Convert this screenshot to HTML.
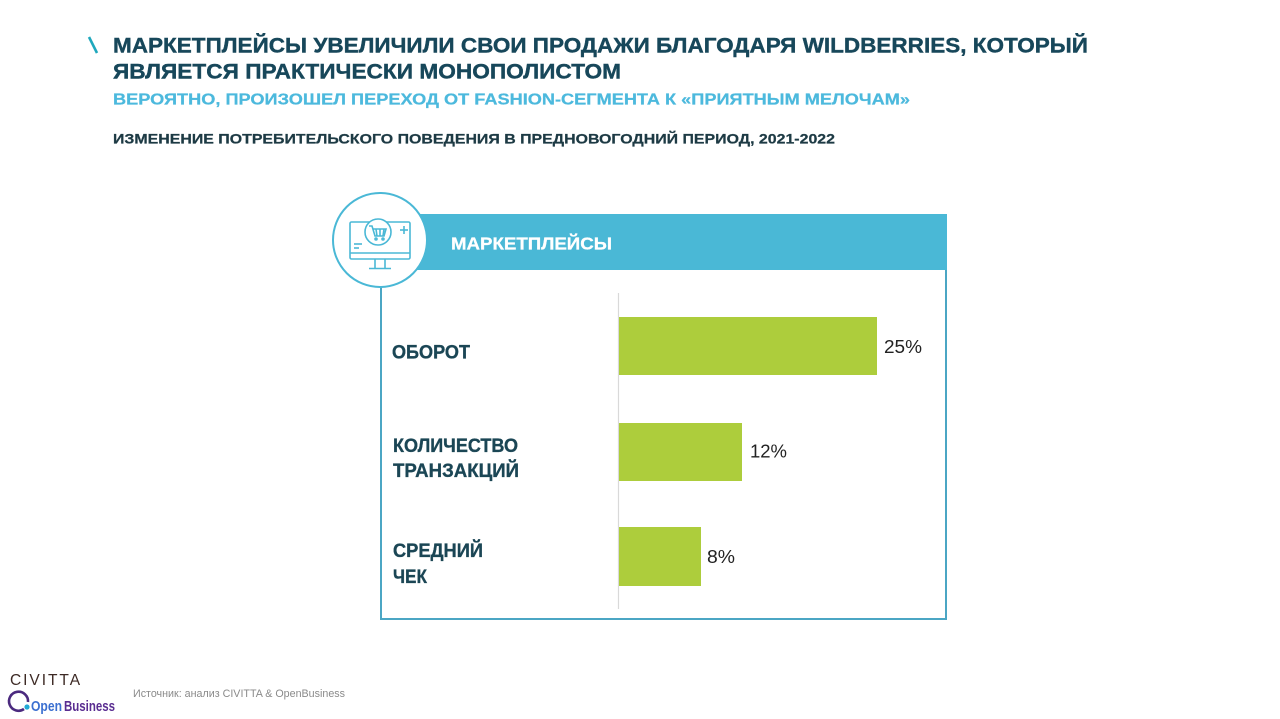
<!DOCTYPE html>
<html><head><meta charset="utf-8"><style>
html,body{margin:0;padding:0;background:#fff;}
svg{display:block;}
text{font-family:"Liberation Sans","Noto Sans CJK SC",sans-serif;}
</style></head><body>
<svg width="1280" height="719" viewBox="0 0 1280 719" xmlns="http://www.w3.org/2000/svg">
<rect width="1280" height="719" fill="#fff"/>
<!-- backslash -->
<line x1="89" y1="37" x2="97" y2="53" stroke="#1fa8bd" stroke-width="2.6"/>
<!-- titles -->
<text x="113" y="52.5" font-size="21.5" font-weight="bold" fill="#17475a" stroke="#17475a" stroke-width="0.4" textLength="975" lengthAdjust="spacingAndGlyphs">МАРКЕТПЛЕЙСЫ УВЕЛИЧИЛИ СВОИ ПРОДАЖИ БЛАГОДАРЯ WILDBERRIES, КОТОРЫЙ</text>
<text x="113" y="78.5" font-size="21.5" font-weight="bold" fill="#17475a" stroke="#17475a" stroke-width="0.4" textLength="508" lengthAdjust="spacingAndGlyphs">ЯВЛЯЕТСЯ ПРАКТИЧЕСКИ МОНОПОЛИСТОМ</text>
<text x="113" y="104.5" font-size="15.8" font-weight="bold" fill="#4cb9dd" stroke="#4cb9dd" stroke-width="0.25" textLength="797" lengthAdjust="spacingAndGlyphs">ВЕРОЯТНО, ПРОИЗОШЕЛ ПЕРЕХОД ОТ FASHION-СЕГМЕНТА К «ПРИЯТНЫМ МЕЛОЧАМ»</text>
<text x="113" y="143.5" font-size="14" font-weight="bold" fill="#1d3a44" stroke="#1d3a44" stroke-width="0.25" textLength="722" lengthAdjust="spacingAndGlyphs">ИЗМЕНЕНИЕ ПОТРЕБИТЕЛЬСКОГО ПОВЕДЕНИЯ В ПРЕДНОВОГОДНИЙ ПЕРИОД, 2021-2022</text>

<!-- box -->
<rect x="381" y="240" width="565" height="379" fill="none" stroke="#4ba6c4" stroke-width="2"/>
<rect x="380" y="214" width="567" height="56" fill="#4ab8d6"/>
<text x="451" y="249.5" font-size="17.5" font-weight="bold" fill="#fff" stroke="#fff" stroke-width="0.3" textLength="161" lengthAdjust="spacingAndGlyphs">МАРКЕТПЛЕЙСЫ</text>

<!-- circle icon -->
<circle cx="380" cy="240" r="47" fill="#fff" stroke="#4ab8d6" stroke-width="2"/>
<g fill="none" stroke="#4ab8d6" stroke-width="1.6">
  <rect x="350" y="222" width="60" height="37" rx="1.5"/>
  <line x1="350" y1="253" x2="410" y2="253"/>
  <line x1="375" y1="259" x2="375" y2="268"/>
  <line x1="385" y1="259" x2="385" y2="268"/>
  <line x1="369" y1="268.5" x2="391" y2="268.5"/>
  <circle cx="378" cy="232" r="13" fill="#fff"/>
  <path d="M369 226 h3 l3 10 h9 l2 -7 h-13"/>
  <line x1="376" y1="229" x2="377" y2="236"/>
  <line x1="380" y1="229" x2="380" y2="236"/>
  <line x1="384" y1="229" x2="383" y2="236"/>
  <circle cx="376" cy="239" r="1"/>
  <circle cx="383" cy="239" r="1"/>
  <line x1="400" y1="230" x2="408" y2="230"/>
  <line x1="404" y1="226" x2="404" y2="234"/>
  <line x1="354" y1="244" x2="362" y2="244"/>
  <line x1="354" y1="248" x2="359" y2="248"/>
</g>

<!-- axis -->
<line x1="618.5" y1="293" x2="618.5" y2="609" stroke="#d9d9d9" stroke-width="1.2"/>
<!-- bars -->
<rect x="619" y="317" width="258" height="58" fill="#adcd3c"/>
<rect x="619" y="423" width="123" height="58" fill="#adcd3c"/>
<rect x="619" y="527" width="82" height="59" fill="#adcd3c"/>

<!-- values -->
<text x="884" y="353" font-size="18.5" fill="#222" textLength="38" lengthAdjust="spacingAndGlyphs">25%</text>
<text x="750" y="457.5" font-size="18.5" fill="#222" textLength="37" lengthAdjust="spacingAndGlyphs">12%</text>
<text x="707" y="563" font-size="18.5" fill="#222" textLength="28" lengthAdjust="spacingAndGlyphs">8%</text>

<!-- labels -->
<g font-size="19.5" font-weight="bold" fill="#1b4655" stroke="#1b4655" stroke-width="0.35">
<text x="392" y="358.5" textLength="78" lengthAdjust="spacingAndGlyphs">ОБОРОТ</text>
<text x="393" y="452" textLength="125" lengthAdjust="spacingAndGlyphs">КОЛИЧЕСТВО</text>
<text x="393" y="477" textLength="126" lengthAdjust="spacingAndGlyphs">ТРАНЗАКЦИЙ</text>
<text x="393" y="557" textLength="90" lengthAdjust="spacingAndGlyphs">СРЕДНИЙ</text>
<text x="393" y="583" textLength="34" lengthAdjust="spacingAndGlyphs">ЧЕК</text>
</g>

<!-- footer logos -->
<text x="10" y="685" font-size="16" fill="#3d2a25" letter-spacing="2" textLength="72" lengthAdjust="spacingAndGlyphs">CIVITTA</text>
<path d="M24 709 A9.5 9.5 0 1 1 28 702" fill="none" stroke="#4b2a7f" stroke-width="2.6"/>
<circle cx="27" cy="707" r="2.6" fill="#21a9d6"/>
<text x="31" y="711" font-size="14.5" font-weight="bold" fill="#3b6fd0" textLength="31" lengthAdjust="spacingAndGlyphs">Open</text>
<text x="64" y="711" font-size="14.5" font-weight="bold" fill="#5a2d91" textLength="51" lengthAdjust="spacingAndGlyphs">Business</text>
<text x="133" y="697" font-size="11" fill="#8a8a8a" textLength="212" lengthAdjust="spacingAndGlyphs">Источник: анализ CIVITTA &amp; OpenBusiness</text>
</svg>
</body></html>
